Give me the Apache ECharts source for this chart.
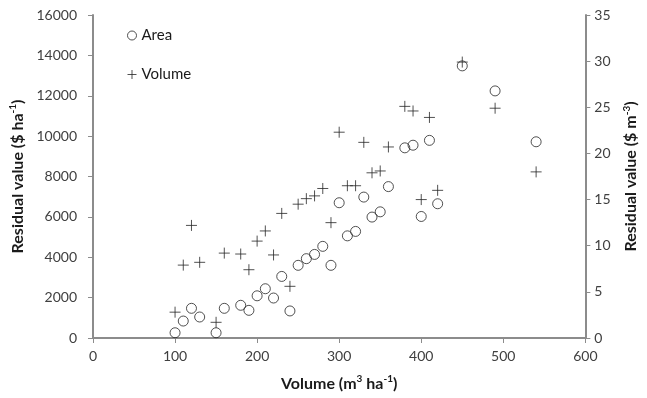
<!DOCTYPE html>
<html>
<head>
<meta charset="utf-8">
<script src="https://cdn.jsdelivr.net/npm/echarts@6/dist/echarts.min.js"></script>
<style>
html,body{margin:0;padding:0;background:#fff;}
#c{width:647px;height:398px;}
</style>
</head>
<body>
<div id="c"></div>
<script>
// Volume (m3/ha) for each stand
var volumes = [100,110,120,130,150,160,180,190,200,210,220,230,240,250,260,270,280,290,300,310,320,330,340,350,360,380,390,400,410,420,450,490,540];
// Residual value per hectare ($/ha) - Area series (left axis)
var areaValues = [260,840,1470,1040,260,1470,1620,1370,2090,2440,1980,3050,1340,3600,3930,4140,4540,3600,6700,5060,5280,6980,5990,6250,7500,9420,9550,6020,9790,6650,13480,12240,9720];
// Residual value per cubic metre ($/m3) - Volume series (right axis)
var volumeValues = [2.8,7.9,12.2,8.2,1.7,9.2,9.1,7.4,10.5,11.6,9.0,13.5,5.6,14.5,15.1,15.4,16.2,12.5,22.3,16.5,16.5,21.2,17.9,18.1,20.7,25.1,24.6,15.0,23.9,16.0,29.9,24.9,18.0];
var xTicks = [0,100,200,300,400,500,600];
var leftTicks = [0,2000,4000,6000,8000,10000,12000,14000,16000];
var rightTicks = [0,5,10,15,20,25,30,35];

var FONT = 'Lato';
var axisColor = '#8c8c8c';
var labelColor = '#404040';
var titleColor = '#1a1a1a';
var plusPath = 'path://M0,5L10,5M5,0L5,10';

function pairs(xs, ys){ return xs.map(function(x,i){ return [x, ys[i]]; }); }
function plain(v){ return String(v); }
function richName(){
  return {
    b:{fontFamily:FONT,fontWeight:'bold',fontSize:16,color:titleColor,lineHeight:19},
    s:{fontFamily:FONT,fontWeight:'bold',fontSize:10,color:titleColor,lineHeight:19,verticalAlign:'top'}
  };
}

var chart = echarts.init(document.getElementById('c'), null, {renderer:'canvas'});
chart.setOption({
  animation:false,
  backgroundColor:'#fff',
  grid:{left:90,right:58,top:15,bottom:60,containLabel:false},
  legend:{
    orient:'vertical', left:122, top:23, itemWidth:9, itemHeight:9, itemGap:24,
    itemStyle:{borderWidth:1},
    textStyle:{fontFamily:FONT,fontSize:15,color:titleColor},
    data:[{name:'Area',icon:'circle'},{name:'Volume',icon:plusPath}]
  },
  xAxis:{
    type:'value', min:xTicks[0], max:xTicks[xTicks.length-1], interval:100,
    name:'{b|Volume (m}{s|3}{b| ha}{s|-1}{b|)}', nameLocation:'middle', nameGap:36,
    nameTextStyle:{rich:richName()},
    axisLine:{show:true,onZero:false,lineStyle:{color:axisColor,width:2}},
    axisTick:{show:true,length:5,lineStyle:{color:axisColor,width:1}},
    axisLabel:{fontFamily:FONT,fontSize:14,color:labelColor,margin:11,formatter:plain},
    splitLine:{show:false}
  },
  yAxis:[{
    type:'value', min:leftTicks[0], max:leftTicks[leftTicks.length-1], interval:2000, position:'left',
    name:'{b|Residual value ($ ha}{s|-1}{b|)}', nameLocation:'middle', nameGap:63, nameRotate:90,
    nameTextStyle:{rich:richName()},
    axisLine:{show:true,lineStyle:{color:axisColor,width:2}},
    axisTick:{show:true,length:5,lineStyle:{color:axisColor,width:1}},
    axisLabel:{fontFamily:FONT,fontSize:14,color:labelColor,margin:16,formatter:plain},
    splitLine:{show:false}
  },{
    type:'value', min:rightTicks[0], max:rightTicks[rightTicks.length-1], interval:5, position:'right',
    name:'{b|Residual value ($ m}{s|-3}{b|)}', nameLocation:'middle', nameGap:33, nameRotate:90,
    nameTextStyle:{rich:richName()},
    axisLine:{show:true,lineStyle:{color:axisColor,width:2}},
    axisTick:{show:true,length:5,lineStyle:{color:axisColor,width:1}},
    axisLabel:{fontFamily:FONT,fontSize:14,color:labelColor,margin:9,formatter:plain},
    splitLine:{show:false}
  }],
  series:[{
    name:'Area', type:'scatter', yAxisIndex:0, data:pairs(volumes, areaValues),
    symbol:'circle', symbolSize:10,
    itemStyle:{color:'rgba(0,0,0,0)',borderColor:'#262626',borderWidth:1}
  },{
    name:'Volume', type:'scatter', yAxisIndex:1, data:pairs(volumes, volumeValues),
    symbol:plusPath, symbolSize:11,
    itemStyle:{color:'rgba(0,0,0,0)',borderColor:'#262626',borderWidth:1}
  }]
});
</script>
</body>
</html>
